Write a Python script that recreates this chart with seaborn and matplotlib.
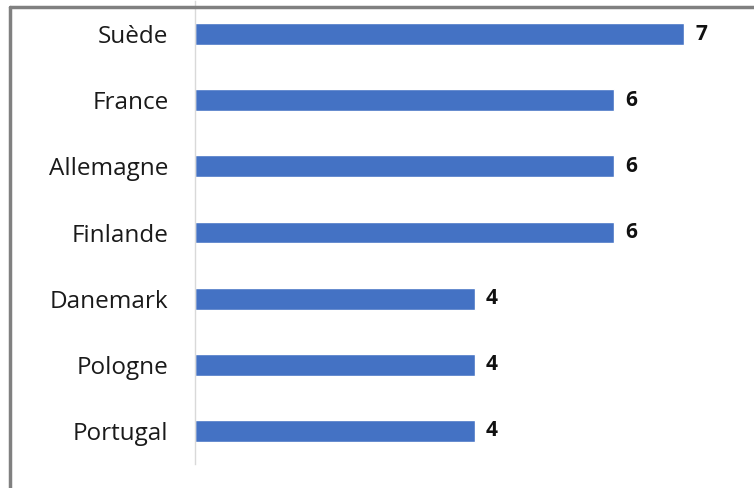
import matplotlib
matplotlib.use("Agg")
import matplotlib.pyplot as plt
import seaborn as sns
import pandas as pd
from matplotlib.lines import Line2D

countries = ["Suède", "France", "Allemagne", "Finlande", "Danemark", "Pologne", "Portugal"]
values = [7, 6, 6, 6, 4, 4, 4]

df = pd.DataFrame({"pays": countries, "valeur": values})

sns.set_theme(style="white")
plt.rcParams["font.family"] = ["Open Sans", "DejaVu Sans"]

W, H = 754, 488
fig = plt.figure(figsize=(W / 100, H / 100), dpi=100)
ax = fig.add_axes([195 / W, (H - 464) / H, (W - 195) / W, (464 - 1) / H])

sns.barplot(data=df, y="pays", x="valeur", orient="h", color="#4472C4",
            saturation=1, width=0.33, ax=ax)

ax.set_xlim(0, 8)
ax.set_xlabel("")
ax.set_ylabel("")
ax.set_xticks([])
for s in ["top", "right", "bottom"]:
    ax.spines[s].set_visible(False)
ax.spines["left"].set_color("#d9d9d9")
ax.spines["left"].set_linewidth(1)
ax.tick_params(axis="y", length=0, pad=19, labelsize=17.5, labelcolor="#1a1a1a")

for c in ax.containers:
    ax.bar_label(c, padding=8, fontsize=15, fontweight="bold", color="#111111")

# outer frame (top and left edges visible)
fig.add_artist(Line2D([10 / W, 1], [1 - 7 / H, 1 - 7 / H], transform=fig.transFigure,
                      color="#808080", linewidth=2.5))
fig.add_artist(Line2D([10 / W, 10 / W], [0, 1 - 7 / H], transform=fig.transFigure,
                      color="#808080", linewidth=2.5))

fig.savefig("out.png", dpi=100)
